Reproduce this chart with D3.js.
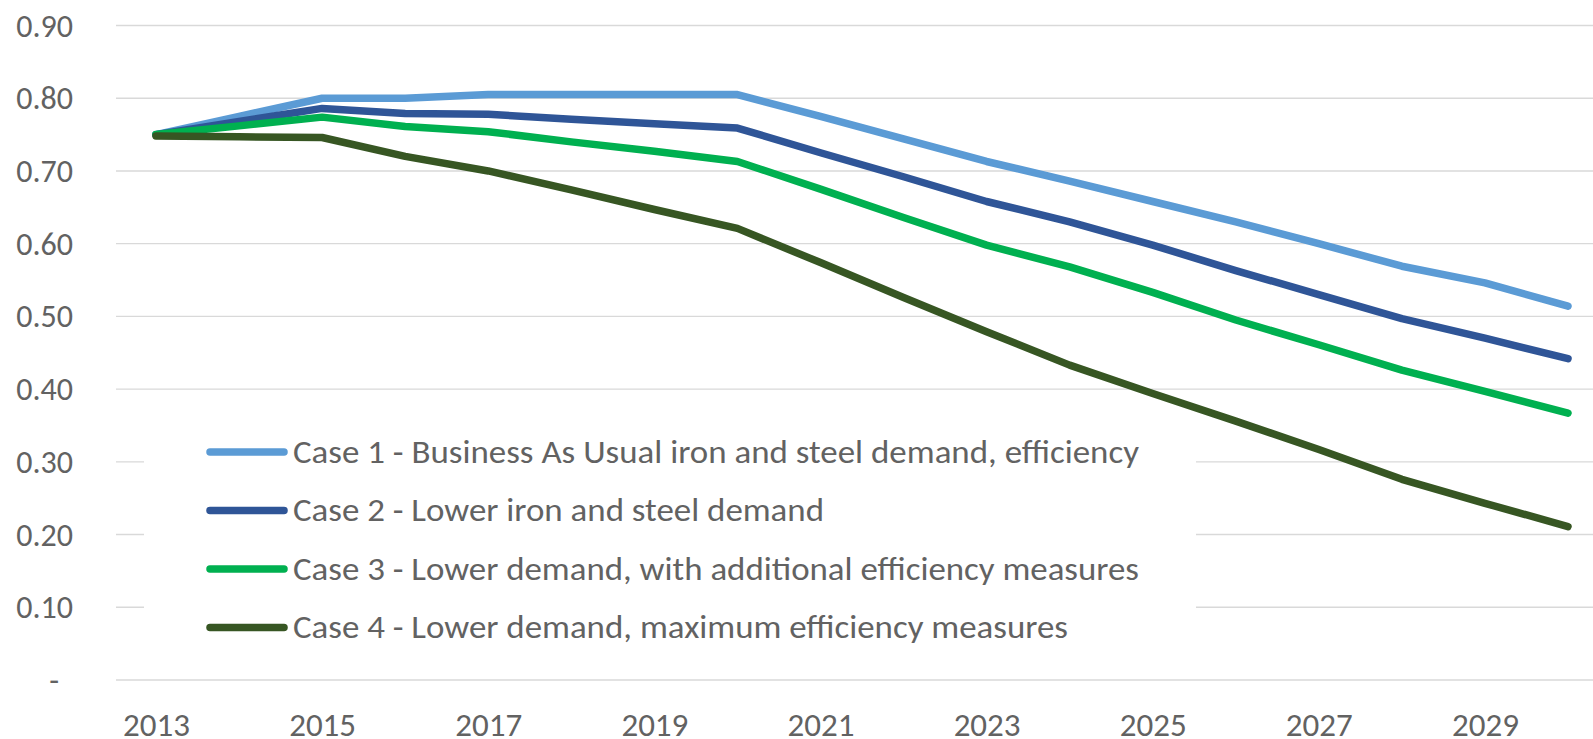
<!DOCTYPE html>
<html>
<head>
<meta charset="utf-8">
<script src="https://cdn.jsdelivr.net/npm/d3@7"></script>
<style>
  html, body { margin: 0; padding: 0; background: #fff; }
  svg text { font-family: Carlito, Calibri, "Liberation Sans", Arial, sans-serif; fill: #626262; }
</style>
</head>
<body>
<div id="chart"></div>
<script>
// Years on the category axis
const years = [2013, 2014, 2015, 2016, 2017, 2018, 2019, 2020, 2021, 2022, 2023, 2024, 2025, 2026, 2027, 2028, 2029, 2030];
const xTickYears = [2013, 2015, 2017, 2019, 2021, 2023, 2025, 2027, 2029];
const yTicks = [0, 0.1, 0.2, 0.3, 0.4, 0.5, 0.6, 0.7, 0.8, 0.9];

// Series values
const case1 = [0.750, 0.775, 0.800, 0.800, 0.805, 0.805, 0.805, 0.805, 0.775, 0.744, 0.713, 0.686, 0.658, 0.630, 0.600, 0.569, 0.546, 0.514];
const case2 = [0.750, 0.768, 0.786, 0.779, 0.778, 0.771, 0.765, 0.759, 0.725, 0.692, 0.658, 0.630, 0.598, 0.563, 0.530, 0.497, 0.470, 0.442];
const case3 = [0.750, 0.762, 0.774, 0.761, 0.754, 0.740, 0.727, 0.713, 0.675, 0.636, 0.598, 0.568, 0.533, 0.495, 0.461, 0.426, 0.397, 0.367];
const case4 = [0.748, 0.747, 0.746, 0.720, 0.700, 0.674, 0.647, 0.621, 0.574, 0.526, 0.479, 0.433, 0.394, 0.356, 0.317, 0.276, 0.243, 0.211];

const seriesNames = [
    "Case 1 - Business As Usual iron and steel demand, efficiency",
    "Case 2 - Lower iron and steel demand",
    "Case 3 - Lower demand, with additional efficiency measures",
    "Case 4 - Lower demand, maximum efficiency measures"
];
const seriesColors = ["#5B9BD5", "#2F5597", "#00B050", "#375623"];
const seriesValues = [case1, case2, case3, case4];

const width = 1593, height = 739;

const svg = d3.select("#chart").append("svg")
    .attr("width", width)
    .attr("height", height);

const x = d3.scalePoint()
    .domain(years)
    .range([156, 1568]);

const y = d3.scaleLinear()
    .domain([0, 0.9])
    .range([680, 25.5]);

// Gridlines
svg.append("g")
    .selectAll("line")
    .data(yTicks)
    .enter().append("line")
    .attr("x1", 116)
    .attr("x2", width)
    .attr("y1", d => y(d))
    .attr("y2", d => y(d))
    .attr("stroke", "#D9D9D9")
    .attr("stroke-width", 1.4);

// Y axis labels
const yAxis = svg.append("g")
    .attr("transform", "translate(73,0)")
    .call(d3.axisLeft(y)
        .tickValues(yTicks)
        .tickSize(0)
        .tickPadding(0)
        .tickFormat(d => d === 0 ? "-" : d3.format(".2f")(d)));
yAxis.select(".domain").remove();
yAxis.selectAll("text")
    .attr("font-size", 32)
    .attr("dy", "0.33em")
    .attr("dx", d => d === 0 ? -14 : 0);

// X axis labels
const xAxis = svg.append("g")
    .attr("transform", "translate(0,736)")
    .call(d3.axisBottom(x)
        .tickValues(xTickYears)
        .tickSize(0)
        .tickPadding(0));
xAxis.select(".domain").remove();
xAxis.selectAll("text")
    .attr("font-size", 33)
    .attr("dy", 0);

// Legend box (covers the gridlines behind it)
svg.append("rect")
    .attr("x", 144)
    .attr("y", 415)
    .attr("width", 1196 - 144)
    .attr("height", 235)
    .attr("fill", "#fff");

// Lines
const line = d3.line()
    .x((d, i) => x(years[i]))
    .y(d => y(d));

svg.append("g")
    .selectAll("path")
    .data(seriesValues)
    .enter().append("path")
    .attr("d", line)
    .attr("fill", "none")
    .attr("stroke", (d, i) => seriesColors[i])
    .attr("stroke-width", 7.5)
    .attr("stroke-linejoin", "round")
    .attr("stroke-linecap", "round");

// Legend entries
const legendWidths = [846, 531, 846, 775];
const legend = svg.append("g")
    .selectAll("g")
    .data(seriesNames)
    .enter().append("g")
    .attr("transform", (d, i) => "translate(0," + (452 + i * 58.5) + ")");

legend.append("line")
    .attr("x1", 210)
    .attr("x2", 284)
    .attr("stroke", (d, i) => seriesColors[i])
    .attr("stroke-width", 7.5)
    .attr("stroke-linecap", "round");

legend.append("text")
    .attr("x", 293)
    .attr("dy", "0.33em")
    .attr("font-size", 32)
    .attr("textLength", (d, i) => legendWidths[i])
    .attr("lengthAdjust", "spacingAndGlyphs")
    .text(d => d);
</script>
</body>
</html>
